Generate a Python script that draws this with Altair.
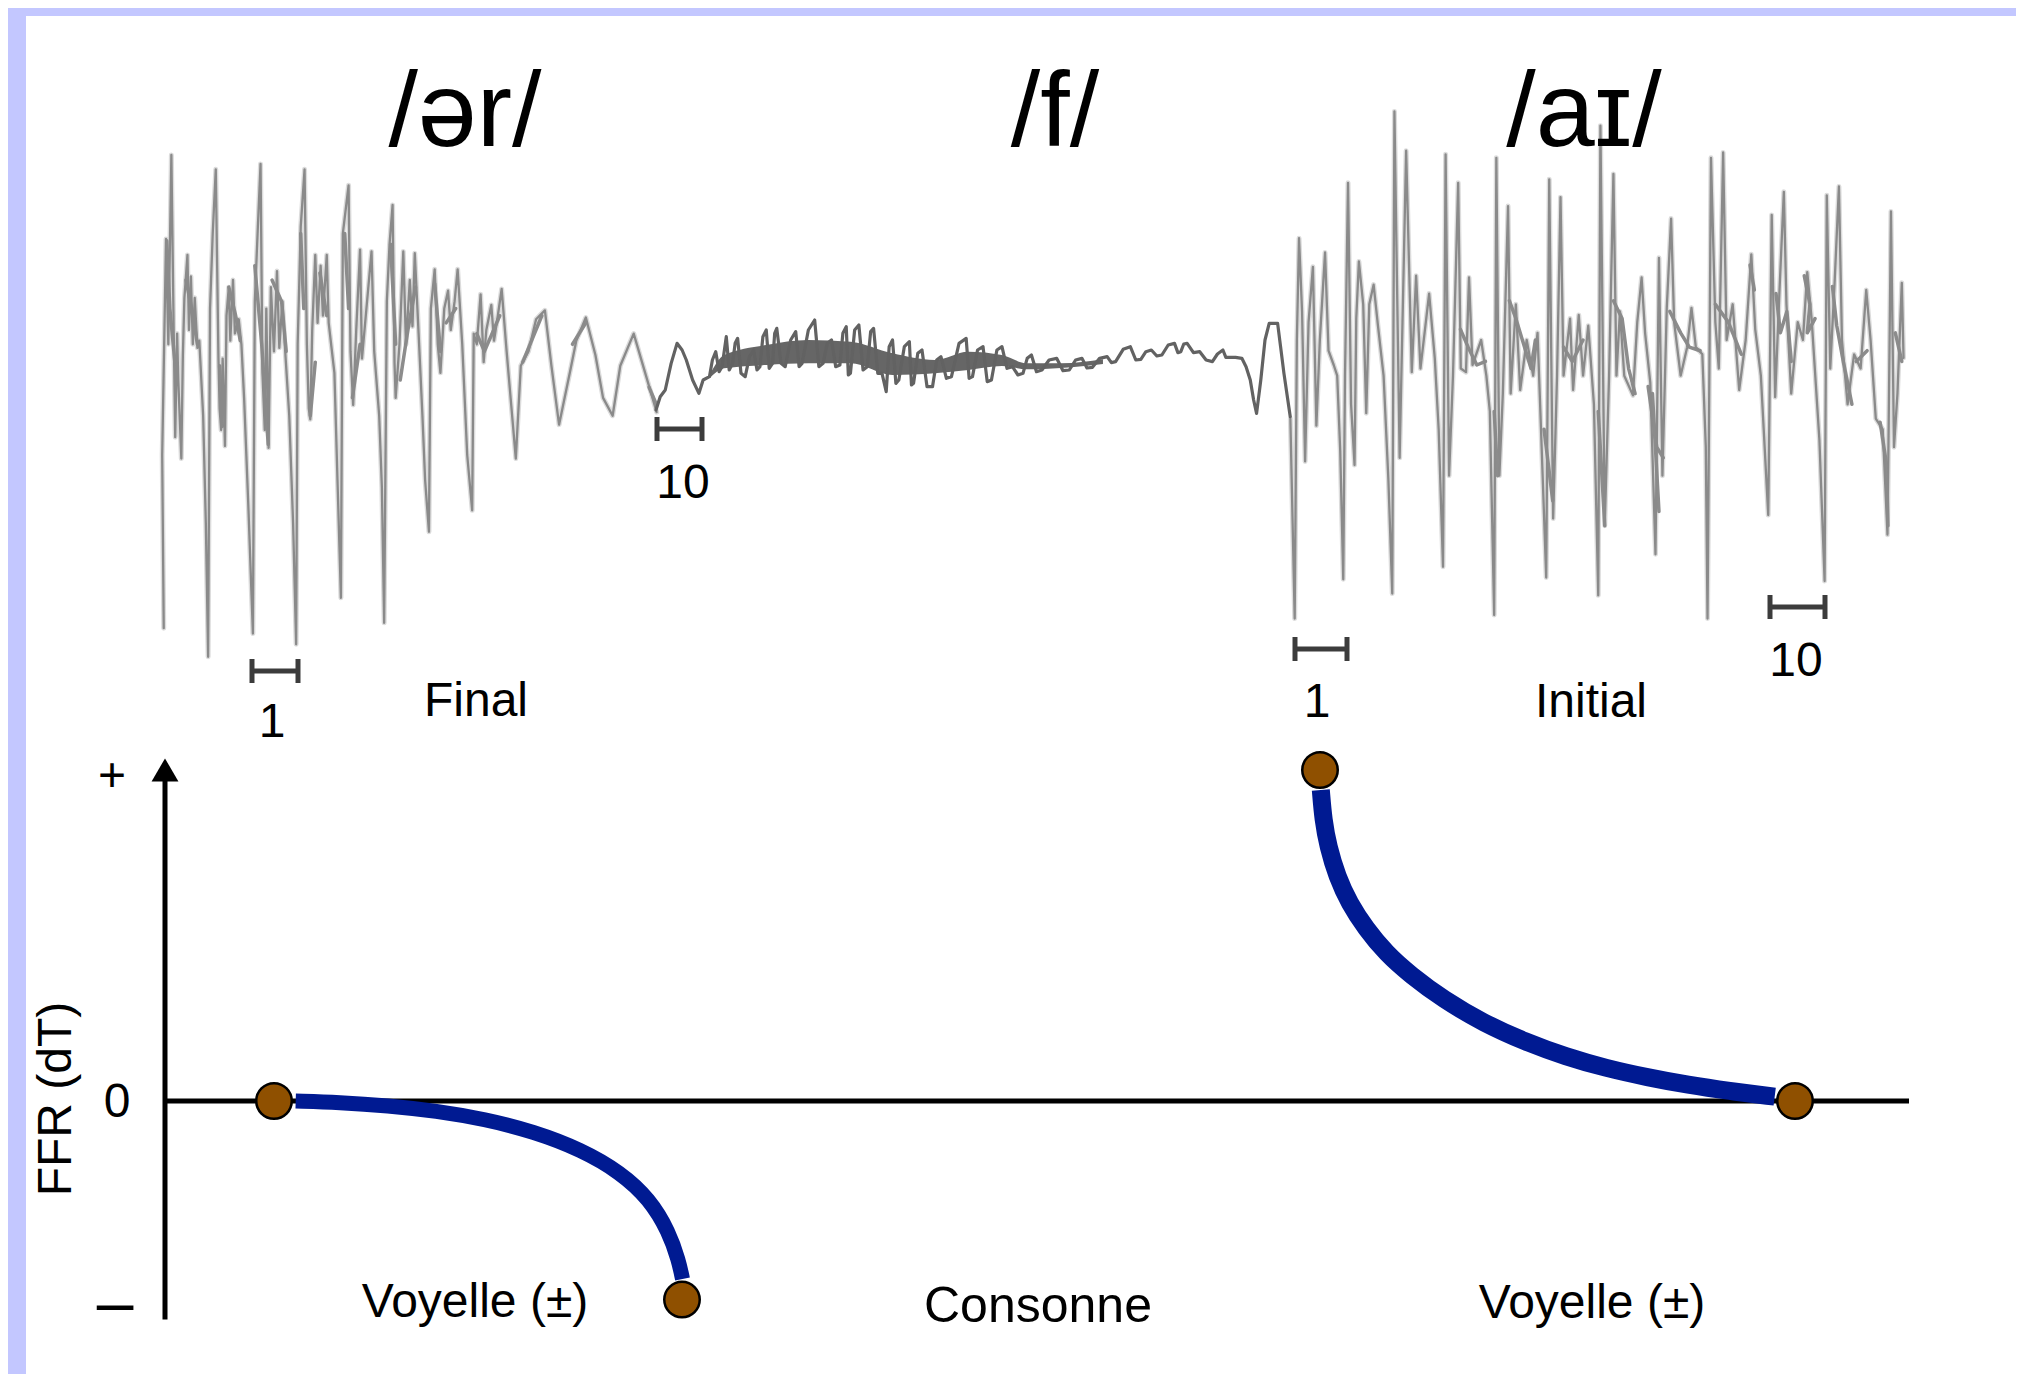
import altair as alt
import pandas as pd

# Waveform traces as (time, level) pairs in crop readings.
final_wave = [
(62,1395),(58,910),(68,305),(74,600),(82,70),(88,560),(92,860),(97,570),(100,700),(108,920),(112,630),(116,470),(124,350),(128,560),(133,410),(138,600),(143,470),(150,610),(155,590),(165,800),(172,1100),(178,1475),
(183,500),(190,290),(198,110),(205,640),(208,780),(212,840),(216,640),(222,885),(226,520),(232,440),(236,590),(243,420),(248,570),(258,530),(265,600),(272,750),(283,1050),(295,1410),
(300,480),(308,270),(315,95),(320,680),(326,840),(330,500),(336,890),(342,440),(350,620),(358,395),(364,610),(372,480),(380,630),(390,800),(400,1100),(408,1440),
(412,600),(420,270),(430,110),(436,600),(441,780),(445,810),(450,560),(458,350),(464,540),(472,380),(478,520),(488,350),(493,540),(508,680),(516,980),(525,1310),
(530,290),(545,155),(550,620),(557,770),(565,560),(575,335),(580,640),(590,520),(605,340),(612,620),(625,800),(632,1000),(638,1380),
(645,480),(652,320),(660,210),(665,650),(668,750),(678,600),(688,340),(695,600),(705,420),(712,550),(718,345),(728,570),(738,800),(745,980),(755,1125),
(760,500),(770,390),(778,600),(785,680),(795,500),(805,450),(812,560),(822,480),(830,390),(842,600),(855,910),(868,1065),
(872,570),(880,600),(890,460),(898,650),(905,560),(918,490),(925,590),(935,520),(945,445),(958,620),(970,770),(982,920),
(995,660),(1015,620),(1035,530),(1058,505),(1075,660),(1095,825),(1125,670),(1140,590),(1165,525),(1190,630),(1210,750),(1235,800),(1255,660),(1290,570),(1320,680),(1350,790),
]
final_core = [
[(70,310),(78,500),(92,660)],[(120,420),(135,500),(150,600)],[(208,660),(215,830)],[(232,440),(250,520),(262,590)],
[(300,380),(318,600),(335,880)],[(345,420),(370,480),(382,620)],[(420,290),(428,500)],[(445,800),(458,650)],[(470,400),(488,520)],
[(535,290),(545,500)],[(555,750),(575,600)],[(655,320),(668,600)],[(680,700),(700,560),(720,440)],[(770,430),(785,620)],[(800,540),(825,500)],
[(880,570),(900,620),(940,520)],[(1000,650),(1050,520)],[(1130,600),(1165,540)],[(1330,720),(1350,770)],
]
consonant_wave = [
(38,390),(48,350),(60,330),(74,250),(88,190),(100,210),(110,240),(125,300),(140,340),(150,300),(165,290),(172,240),(180,215),(188,275),(195,260),(205,170),(212,270),(220,250),(226,190),(232,175),(240,280),(250,290),(260,230),(270,210),(278,270),(285,260),(292,170),(300,150),(307,265),(315,250),(320,160),(325,145),(335,250),(345,260),(358,180),(370,155),(378,260),(385,250),(400,150),(415,120),(425,260),(435,250),(445,190),(455,180),(465,260),(475,255),(482,160),(490,140),(495,285),(500,280),(510,150),(520,135),(530,270),(540,260),(548,155),(555,145),(565,280),(575,280),(585,335),(592,200),(600,180),(608,310),(615,300),(628,200),(640,185),(645,315),(650,310),(660,220),(670,210),(682,320),(695,320),(705,240),(715,230),(728,295),(740,290),(758,190),(775,175),(782,295),(790,290),(802,210),(815,200),(825,305),(835,300),(848,210),(860,200),(872,265),(885,260),(898,285),(910,280),(920,235),(930,225),(942,275),(955,270),(972,240),(990,235),(1005,272),(1020,270),(1035,240),(1050,235),(1062,264),(1075,262),(1092,235),(1110,230),(1120,248),(1130,245),(1148,208),(1165,200),(1178,240),(1190,238),(1202,215),(1215,210),(1228,228),(1240,225),(1255,195),(1270,190),(1278,218),(1285,215),(1292,192),(1300,190),(1315,218),(1330,215),(1345,240),(1360,245),(1372,222),(1385,210),(1392,232),(1400,232),(1415,232),(1430,235),(1440,260),(1450,300),(1458,360),(1465,400),(1475,300),(1485,180),(1495,130),(1515,130),(1522,200),(1530,280),(1545,410),
]
# dark band of the consonant: (time, upper edge, lower edge)
consonant_band = [(165,285,295),(200,225,265),(300,195,255),(400,180,250),(500,185,250),(600,220,285),(700,240,280),(780,215,270),(860,225,258),(920,250,268),(1000,250,264),(1100,238,252)]
initial_wave = [
(70,920),(80,1480),(85,700),(90,415),(97,620),(104,1040),(112,650),(122,495),(130,940),(138,700),(150,455),(158,730),(170,770),(178,800),(185,1010),(192,1370),(196,800),(203,260),(210,880),(218,1050),(222,640),(228,480),(238,600),(245,905),(252,600),(262,545),(272,660),(285,800),(296,1090),(305,1410),
(310,60),(322,1030),(337,170),(350,790),(360,520),(370,780),(390,570),(403,750),(412,950),(422,1335),(428,180),(436,1080),(445,800),(457,260),(463,780),(475,790),(482,525),(490,770),(510,700),(522,800),(530,900),(540,1470),
(545,190),(552,1080),(560,850),(572,325),(578,850),(590,600),(600,840),(615,700),(630,800),(640,680),(648,950),(660,1365),(667,250),(676,1200),(685,800),(693,300),(700,800),(715,640),(722,840),(735,630),(745,800),(757,660),(770,880),(780,1415),
(785,100),(795,1220),(805,800),(815,235),(822,800),(830,620),(840,800),(860,855),(870,650),(880,525),(888,680),(900,820),(912,1300),(920,470),(928,1080),(938,610),(948,360),(955,650),(970,800),(985,720),(995,610),(1005,720),(1020,740),(1028,1000),(1032,1480),
(1040,190),(1050,650),(1058,780),(1068,175),(1076,700),(1090,600),(1105,840),(1120,700),(1133,460),(1142,670),(1155,800),(1172,1190),(1180,350),(1188,860),(1198,560),(1208,285),(1214,600),(1225,850),(1240,650),(1252,700),(1262,510),(1272,640),(1290,980),(1302,1375),
(1307,295),(1315,780),(1325,540),(1335,270),(1342,700),(1355,880),(1370,740),(1385,780),(1398,560),(1408,700),(1420,920),(1436,950),(1447,1245),(1455,340),(1462,1000),(1470,850),(1480,540),(1484,750),
]
initial_core = [
[(462,670),(480,720),(500,770),(520,760)],[(575,590),(590,640),(605,700),(625,780),(635,700)],[(700,720),(720,760),(745,700)],
[(815,590),(835,640),(850,780),(865,850)],[(895,830),(915,1000),(930,1030)],[(945,620),(970,680),(990,720),(1015,730)],
[(1050,600),(1080,650),(1110,740)],[(1130,490),(1140,560)],[(1190,570),(1200,680),(1215,620),(1225,760)],[(1255,520),(1268,600),(1262,680),(1280,640)],
[(1320,550),(1330,660),(1345,760),(1365,880)],[(1375,760),(1400,730)],[(1430,930),(1445,1050),(1448,1220)],[(1465,680),(1480,760)],
[(540,900),(548,1080)],[(655,950),(675,1150)],[(780,900),(795,1220)],[(905,850),(920,1180)],
]
# FFR curves, crop readings
ffr_vowel_final = [(610,881),(700,884),(800,892),(900,905),(1000,925),(1100,955),(1200,1000),(1280,1055),(1340,1120),(1380,1200),(1400,1270),(1408,1315)]
ffr_vowel_initial = [(100,150),(106,240),(118,320),(140,410),(170,490),(210,565),(260,640),(320,705),(400,778),(500,850),(600,905),(700,950),(800,985),(900,1012),(1000,1035),(1100,1053),(1212,1070)]
# (time, FFR) of the four dots
dot_time = [274, 682, 1320, 1795]
dot_ffr = [0.0, -0.60, 1.0, 0.0]
# scale bars: (start, end, level)
scale_bars = [(252, 298, -331), (657, 702, -89), (1295, 1347, -309), (1770, 1825, -267)]

W, H = 2008, 1366
BASE = 340
ZERO = 1101
UNIT = 331
BOTTOM = 8 + H


def wave_frame(pairs, x0, y0, sx, sy, group=0):
    return pd.DataFrame({
        "t": [x0 + x / sx for x, _ in pairs],
        "a": [BASE - (y0 + y / sy) for _, y in pairs],
        "i": range(len(pairs)),
        "g": group,
    })


def ffr_frame(pairs, x0, y0, sx, sy):
    return pd.DataFrame({
        "t": [x0 + x / sx for x, _ in pairs],
        "v": [(ZERO - (y0 + y / sy)) / UNIT for _, y in pairs],
        "i": range(len(pairs)),
    })


X = alt.X("t:Q", axis=None, scale=alt.Scale(domain=[8, 8 + W], range=[0, W]))
WAVE_SCALE = alt.Scale(domain=[BASE - BOTTOM, BASE - 8], range=[H, 0])
FFR_SCALE = alt.Scale(domain=[(ZERO - BOTTOM) / UNIT, (ZERO - 8) / UNIT], range=[H, 0])
YA = alt.Y("a:Q", axis=None, scale=WAVE_SCALE)
YV = alt.Y("v:Q", axis=None, scale=FFR_SCALE)
X2 = alt.X2("t2:Q")

layers = []
layers.append(alt.Chart(pd.DataFrame({"k": [0]})).mark_rect(color="white").encode(
    x=alt.value(18), x2=alt.value(W), y=alt.value(8), y2=alt.value(H)))


def wave_line(df, color, width):
    return alt.Chart(df).mark_line(color=color, strokeWidth=width, strokeJoin="round", strokeCap="round").encode(
        x=X, y=YA, order="i:Q", detail="g:N")


final_df = wave_frame(final_wave, 140, 130, 2.613, 2.8)
cons_df = wave_frame(consonant_wave, 640, 280, 2.376, 3.0)
init_df = wave_frame(initial_wave, 1260, 90, 2.306, 2.8)
final_core_df = pd.concat([wave_frame(p, 140, 130, 2.613, 2.8, k) for k, p in enumerate(final_core)])
init_core_df = pd.concat([wave_frame(p, 1260, 90, 2.306, 2.8, k) for k, p in enumerate(initial_core)])
band_df = pd.DataFrame({
    "t": [640 + x / 2.376 for x, _, _ in consonant_band],
    "a": [BASE - (280 + u / 3.0) for _, u, _ in consonant_band],
    "a2": [BASE - (280 + l / 3.0) for _, _, l in consonant_band],
})

layers.append(wave_line(final_df, "#dcdcdc", 5.0))
layers.append(wave_line(init_df, "#dcdcdc", 5.0))
layers.append(wave_line(final_core_df, "#8c8c8c", 3.5))
layers.append(wave_line(init_core_df, "#8c8c8c", 3.5))
layers.append(wave_line(final_df, "#8a8a8a", 2.3))
layers.append(wave_line(init_df, "#8a8a8a", 2.3))
layers.append(alt.Chart(band_df).mark_area(color="#666666", interpolate="monotone").encode(x=X, y=YA, y2=alt.Y2("a2:Q")))
layers.append(wave_line(cons_df, "#626262", 3.2))

# scale bars
bars = pd.DataFrame(scale_bars, columns=["t", "t2", "a"])
layers.append(alt.Chart(bars).mark_rule(color="#3c3c3c", strokeWidth=5).encode(x=X, x2=X2, y=YA))
caps = pd.DataFrame(
    [(t, a - 12, a + 12) for s, e, a in scale_bars for t in (s, e)], columns=["t", "a", "a2"])
layers.append(alt.Chart(caps).mark_rule(color="#3c3c3c", strokeWidth=5).encode(
    x=X, y=YA, y2=alt.Y2("a2:Q")))

# FFR axes
vaxis = pd.DataFrame({"t": [165], "v": [0.98], "v2": [-0.66]})
layers.append(alt.Chart(vaxis).mark_rule(color="black", strokeWidth=5).encode(x=X, y=YV, y2=alt.Y2("v2:Q")))
haxis = pd.DataFrame({"t": [165], "t2": [1909], "v": [0.0]})
layers.append(alt.Chart(haxis).mark_rule(color="black", strokeWidth=5).encode(x=X, x2=X2, y=YV))
arrow = pd.DataFrame({"t": [165], "v": [1.0]})
layers.append(alt.Chart(arrow).mark_point(shape="triangle-up", filled=True, color="black", size=720, opacity=1).encode(x=X, y=YV))


def ffr_line(df, width):
    return alt.Chart(df).mark_line(color="#001a92", strokeWidth=width, interpolate="basis", strokeCap="butt").encode(
        x=X, y=YV, order="i:Q")


layers.append(ffr_line(ffr_frame(ffr_vowel_final, 0, 740, 2.063, 2.44), 15))
layers.append(ffr_line(ffr_frame(ffr_vowel_initial, 1280, 740, 2.45, 3.0), 18))
dots = pd.DataFrame({"t": dot_time, "v": dot_ffr})
layers.append(alt.Chart(dots).mark_point(shape="circle", filled=True, fill="#8f5000", stroke="black",
                                         strokeWidth=2.5, size=1260, opacity=1).encode(x=X, y=YV))

# labels: text, centre, baseline, size
FONT = "Liberation Sans"
labels = [
    ("/ər/", 465, 146, 106), ("/f/", 1055, 146, 106), ("/aɪ/", 1584, 146, 106),
    ("10", 683, 498, 48), ("1", 272, 737, 48), ("Final", 476, 716, 48),
    ("1", 1317, 717, 48), ("Initial", 1591, 717, 48), ("10", 1796, 676, 48),
    ("Voyelle (±)", 475, 1317, 48), ("Consonne", 1038, 1322, 50), ("Voyelle (±)", 1592, 1318, 48),
    ("+", 112, 791, 48), ("0", 117, 1117, 48), ("–", 115, 1325, 66),
]
for txt, cx, by, fs in labels:
    layers.append(alt.Chart(pd.DataFrame({"k": [txt]})).mark_text(
        font=FONT, fontSize=fs, color="black", align="center", baseline="alphabetic"
    ).encode(x=alt.value(cx - 8), y=alt.value(by - 8), text="k:N"))
layers.append(alt.Chart(pd.DataFrame({"k": ["FFR (dT)"]})).mark_text(
    font=FONT, fontSize=48, color="black", align="center", baseline="alphabetic", angle=270
).encode(x=alt.value(71 - 8), y=alt.value(1099 - 8), text="k:N"))

chart = alt.layer(*layers).resolve_scale(y="independent").properties(
    width=W, height=H, padding=0, background="#c3c7ff",
    autosize=alt.AutoSizeParams(type="none"),
).configure_view(stroke=None)

chart.save("out.html", embed_options={"renderer": "svg", "actions": False})
